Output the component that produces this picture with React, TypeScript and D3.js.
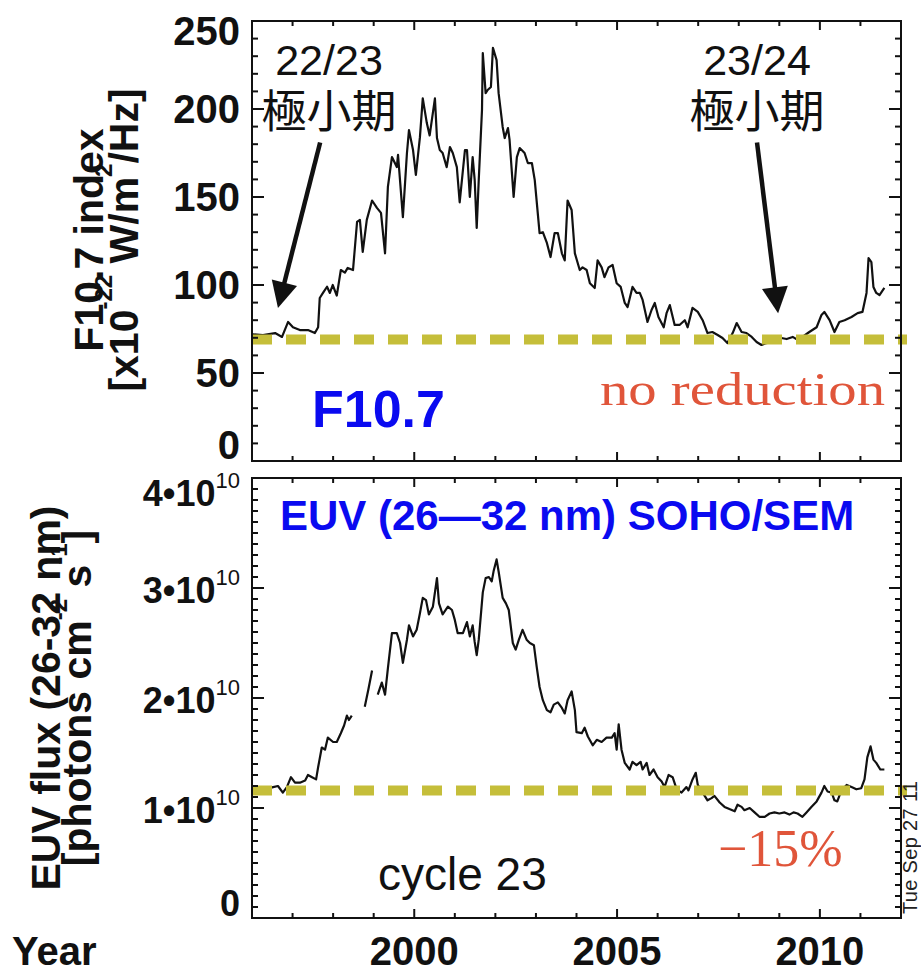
import React from "react";
import * as d3 from "d3";

// F10.7 solar radio flux (smoothed), [decimal year, sfu]
const f107Series: [number, number][] = [
  [1996.02, 72], [1996.27, 71.6], [1996.57, 72.7], [1996.74, 70.5], [1996.89, 79], [1997.01, 76],
  [1997.18, 74.4], [1997.38, 74.4], [1997.55, 72.7], [1997.63, 76], [1997.67, 92.6], [1997.75, 95.5],
  [1997.85, 99], [1997.92, 95.5], [1997.99, 100], [1998.09, 94], [1998.19, 108.5], [1998.29, 107],
  [1998.36, 109.7], [1998.49, 108.5], [1998.59, 135.8], [1998.66, 137], [1998.73, 118.8], [1998.83, 137],
  [1998.96, 148], [1999.08, 143.8], [1999.18, 141], [1999.28, 118], [1999.35, 155.7], [1999.45, 172.7],
  [1999.57, 167], [1999.6, 174], [1999.72, 138.6], [1999.82, 175], [1999.87, 188], [1999.97, 176.7],
  [2000.04, 162.5], [2000.14, 184], [2000.21, 206], [2000.31, 192], [2000.38, 185], [2000.51, 206],
  [2000.56, 183.5], [2000.63, 176.7], [2000.7, 175], [2000.8, 167], [2000.88, 178.4], [2000.95, 175],
  [2001.05, 167], [2001.12, 147], [2001.25, 176.7], [2001.3, 176.7], [2001.37, 150], [2001.44, 172.7],
  [2001.49, 159.7], [2001.54, 132.4], [2001.59, 159.7], [2001.67, 199.4], [2001.69, 231.8], [2001.76, 209],
  [2001.81, 210.8], [2001.89, 212.5], [2001.94, 234.7], [2002.03, 227.8], [2002.08, 209], [2002.18, 189.8],
  [2002.23, 183.5], [2002.31, 189.2], [2002.35, 182.4], [2002.45, 150], [2002.53, 172.7], [2002.6, 177.8],
  [2002.72, 175], [2002.8, 169.3], [2002.9, 169.3], [2002.97, 159.7], [2003.09, 129.5], [2003.17, 130],
  [2003.27, 123.9], [2003.36, 115.9], [2003.46, 129.5], [2003.54, 129.5], [2003.64, 118], [2003.71, 114],
  [2003.78, 148], [2003.88, 142.6], [2003.96, 118], [2004.08, 108.5], [2004.15, 110], [2004.25, 108.5],
  [2004.33, 101], [2004.45, 98.3], [2004.52, 114], [2004.62, 110], [2004.69, 104.5], [2004.79, 110],
  [2004.89, 111.4], [2004.99, 101], [2005.09, 98.9], [2005.19, 89.8], [2005.26, 87.5], [2005.38, 98.9],
  [2005.48, 95.5], [2005.56, 95.5], [2005.63, 91.5], [2005.75, 79], [2005.85, 85.8], [2005.93, 89.8],
  [2006.02, 81.8], [2006.15, 76], [2006.22, 84], [2006.3, 88.6], [2006.42, 77.3], [2006.54, 77.3],
  [2006.67, 80], [2006.74, 76], [2006.86, 87], [2006.99, 84.7], [2007.11, 80], [2007.23, 72.7],
  [2007.35, 73.3], [2007.48, 71.6], [2007.6, 69.9], [2007.72, 67], [2007.85, 72.7], [2007.95, 78.4],
  [2008.07, 73.3], [2008.19, 72.7], [2008.32, 70.5], [2008.44, 67.6], [2008.56, 65.9], [2008.68, 67],
  [2008.83, 67.6], [2009.05, 69.9], [2009.18, 69.3], [2009.33, 70.5], [2009.45, 68.8], [2009.57, 70.5],
  [2009.74, 73.3], [2009.92, 76], [2010.04, 83], [2010.11, 84.7], [2010.24, 80], [2010.36, 73.3],
  [2010.48, 79], [2010.61, 80], [2010.78, 81.8], [2010.93, 84], [2011.05, 84.7], [2011.15, 95.5],
  [2011.2, 115.3], [2011.27, 113], [2011.32, 98.9], [2011.39, 95.5], [2011.47, 94.3], [2011.59, 98.3],
];

// SOHO/SEM 26-32 nm EUV flux, [decimal year, 1e10 photons cm^-2 s^-1]; null = no data
const euvSeries: [number, number | null][] = [
  [1996.25, 1.16], [1996.32, 1.17], [1996.52, 1.19], [1996.64, 1.2], [1996.76, 1.14], [1996.86, 1.19],
  [1996.96, 1.28], [1997.06, 1.23], [1997.18, 1.23], [1997.31, 1.25], [1997.38, 1.3], [1997.48, 1.28],
  [1997.58, 1.26], [1997.63, 1.37], [1997.72, 1.55], [1997.8, 1.53], [1997.87, 1.64], [1998.0, 1.6],
  [1998.09, 1.6], [1998.19, 1.68], [1998.27, 1.75], [1998.34, 1.84], [1998.39, 1.8], [1998.46, 1.84],
  [1998.6, null],
  [1998.78, 1.92], [1998.87, 2.08], [1998.96, 2.25],
  [1999.03, null],
  [1999.1, 2.03], [1999.2, 2.14], [1999.28, 2.03], [1999.35, 2.27], [1999.45, 2.59], [1999.57, 2.59],
  [1999.65, 2.5], [1999.72, 2.32], [1999.82, 2.53], [1999.87, 2.66], [1999.97, 2.56], [2000.06, 2.62],
  [2000.14, 2.77], [2000.21, 2.91], [2000.29, 2.89], [2000.36, 2.76], [2000.46, 2.83], [2000.56, 3.09],
  [2000.61, 2.86], [2000.7, 2.76], [2000.83, 2.83], [2000.93, 2.8], [2001.0, 2.71], [2001.07, 2.59],
  [2001.2, 2.59], [2001.25, 2.64], [2001.3, 2.69], [2001.37, 2.56], [2001.44, 2.66], [2001.49, 2.51],
  [2001.54, 2.39], [2001.59, 2.53], [2001.69, 2.96], [2001.76, 3.09], [2001.84, 3.1], [2001.91, 3.06],
  [2001.96, 3.16], [2002.03, 3.26], [2002.08, 3.15], [2002.18, 2.91], [2002.26, 2.86], [2002.33, 2.8],
  [2002.43, 2.5], [2002.5, 2.44], [2002.58, 2.53], [2002.67, 2.62], [2002.77, 2.53], [2002.85, 2.5],
  [2002.95, 2.48], [2003.02, 2.28], [2003.09, 2.1], [2003.17, 1.98], [2003.27, 1.89], [2003.36, 1.87],
  [2003.44, 1.94], [2003.54, 1.96], [2003.64, 1.91], [2003.71, 1.86], [2003.78, 1.98], [2003.88, 2.06],
  [2003.96, 1.89], [2004.0, 1.69], [2004.13, 1.68], [2004.2, 1.73], [2004.28, 1.65], [2004.4, 1.57],
  [2004.5, 1.62], [2004.62, 1.6], [2004.74, 1.64], [2004.87, 1.64], [2004.94, 1.68], [2004.99, 1.53],
  [2005.04, 1.76], [2005.11, 1.53], [2005.19, 1.41], [2005.31, 1.35], [2005.38, 1.42], [2005.48, 1.39],
  [2005.58, 1.42], [2005.63, 1.35], [2005.73, 1.41], [2005.8, 1.3], [2005.9, 1.35], [2006.0, 1.28],
  [2006.1, 1.24], [2006.17, 1.19], [2006.27, 1.3], [2006.37, 1.28], [2006.47, 1.17], [2006.59, 1.14],
  [2006.71, 1.19], [2006.76, 1.16], [2006.86, 1.26], [2006.94, 1.32], [2006.99, 1.21], [2007.11, 1.14],
  [2007.23, 1.07], [2007.33, 1.09], [2007.4, 1.11], [2007.53, 1.05], [2007.65, 1.01], [2007.77, 0.99],
  [2007.9, 0.97], [2007.97, 1.03], [2008.07, 1.01], [2008.14, 0.98], [2008.27, 1.0], [2008.39, 0.96],
  [2008.51, 0.92], [2008.64, 0.92], [2008.76, 0.95], [2008.88, 0.96], [2009.0, 0.95], [2009.13, 0.96],
  [2009.25, 0.94], [2009.35, 0.96], [2009.45, 0.95], [2009.57, 0.92], [2009.67, 0.96], [2009.79, 1.01],
  [2009.92, 1.06], [2010.04, 1.14], [2010.11, 1.2], [2010.19, 1.15], [2010.29, 1.14], [2010.36, 1.07],
  [2010.43, 1.06], [2010.53, 1.16], [2010.66, 1.21], [2010.78, 1.19], [2010.9, 1.17], [2011.02, 1.18],
  [2011.1, 1.26], [2011.17, 1.46], [2011.25, 1.56], [2011.32, 1.44], [2011.39, 1.41], [2011.49, 1.35],
  [2011.59, 1.35],
];

const yearLabels = [2000, 2005, 2010];
const f107TickLabels = [0, 50, 100, 150, 200, 250];
const euvTickLabels = [0, 1, 2, 3, 4];
const f107Reference = 69; // "no reduction" level
const euvReference = 1.16; // same-epoch EUV level

const W = 921;
const H = 974;
const plotLeft = 252;
const plotRight = 901;
const topPanel = { top: 21, bottom: 461 };
const botPanel = { top: 478, bottom: 918 };

const x = d3.scaleLinear().domain([1996, 2012]).range([plotLeft, plotRight]);
const yF = d3.scaleLinear().domain([0, 250]).range([topPanel.bottom, topPanel.top]);
const yE = d3.scaleLinear().domain([0, 4]).range([botPanel.bottom, botPanel.top]);

const SANS = "'Liberation Sans', Arial, Helvetica, sans-serif";
const SERIF = "'Liberation Serif', 'Times New Roman', serif";
const CJK = "'Noto Sans CJK JP', sans-serif";
const BLUE = "#0a0af0";
const RED = "#e0553a";
const OLIVE = "#c5be3a";
const INK = "#111";

type FrameProps = {
  y: d3.ScaleLinear<number, number>;
  top: number;
  bottom: number;
  max: number;
  minorStep: number;
  majorEvery: number;
};

function Frame({ y, top, bottom, max, minorStep, majorEvery }: FrameProps) {
  const n = Math.round(max / minorStep);
  const yTicks = d3.range(0, n + 1).map((i) => ({ v: i * minorStep, major: i % majorEvery === 0 }));
  const xTicks = d3.range(1997, 2012).map((yr) => ({ v: yr, major: yr % 5 === 0 }));
  return (
    <g stroke={INK} strokeWidth={2} fill="none">
      <rect x={plotLeft} y={top} width={plotRight - plotLeft} height={bottom - top} />
      {yTicks.map((t) => {
        const len = t.major ? 12 : 6;
        const yy = y(t.v);
        return (
          <g key={`y${t.v}`}>
            <line x1={plotLeft} x2={plotLeft + len} y1={yy} y2={yy} />
            <line x1={plotRight} x2={plotRight - len} y1={yy} y2={yy} />
          </g>
        );
      })}
      {xTicks.map((t) => {
        const len = t.major ? 9 : 5;
        const xx = x(t.v);
        return (
          <g key={`x${t.v}`}>
            <line x1={xx} x2={xx} y1={top} y2={top + len} />
            <line x1={xx} x2={xx} y1={bottom} y2={bottom - len} />
          </g>
        );
      })}
    </g>
  );
}

type ArrowProps = {
  from: [number, number];
  to: [number, number];
  y: d3.ScaleLinear<number, number>;
};

function Arrow({ from, to, y }: ArrowProps) {
  const x0 = x(from[0]);
  const y0 = y(from[1]);
  const x1 = x(to[0]);
  const y1 = y(to[1]);
  const len = Math.hypot(x1 - x0, y1 - y0);
  const ux = (x1 - x0) / len;
  const uy = (y1 - y0) / len;
  const headLen = 26;
  const headHalf = 13;
  const bx = x1 - ux * headLen;
  const by = y1 - uy * headLen;
  const head = [
    [x1, y1],
    [bx - uy * headHalf, by + ux * headHalf],
    [bx + uy * headHalf, by - ux * headHalf],
  ]
    .map((p) => p.join(","))
    .join(" ");
  return (
    <g>
      <line x1={x0} y1={y0} x2={bx + ux * 4} y2={by + uy * 4} stroke={INK} strokeWidth={4.5} />
      <polygon points={head} fill={INK} />
    </g>
  );
}

// Two-line "cycle boundary / minimum" note: numerals above, Japanese below
function MinimumNote({ cx, label }: { cx: number; label: string }) {
  return (
    <text textAnchor="middle" fill={INK}>
      <tspan x={cx} y={75} fontSize={43}>{label}</tspan>
      <tspan x={cx} y={128} fontSize={45} fontFamily={CJK}>極小期</tspan>
    </text>
  );
}

export default function App() {
  const f107Line = d3
    .line<[number, number]>()
    .x((d) => x(d[0]))
    .y((d) => yF(d[1]));
  const euvLine = d3
    .line<[number, number | null]>()
    .defined((d) => d[1] != null)
    .x((d) => x(d[0]))
    .y((d) => yE(d[1] as number));

  const clampY = (v: number, lo: number, hi: number) => Math.max(lo, Math.min(hi, v));

  return (
    <svg
      width={W}
      height={H}
      viewBox={`0 0 ${W} ${H}`}
      style={{ position: "absolute", left: 0, top: 0, background: "#fff" }}
      fontFamily={SANS}
    >
      <rect width={W} height={H} fill="#fff" />

      {/* ---------- F10.7 panel ---------- */}
      <path d={f107Line(f107Series) || ""} fill="none" stroke={INK} strokeWidth={2.2} strokeLinejoin="round" />
      <line
        x1={plotLeft}
        x2={907}
        y1={yF(f107Reference)}
        y2={yF(f107Reference)}
        stroke={OLIVE}
        strokeWidth={10}
        strokeDasharray="20 14"
      />
      <Frame y={yF} top={topPanel.top} bottom={topPanel.bottom} max={250} minorStep={10} majorEvery={5} />

      {f107TickLabels.map((v) => (
        <text
          key={`fl${v}`}
          x={240}
          y={clampY(yF(v), topPanel.top + 10, topPanel.bottom - 16) + 14}
          textAnchor="end"
          fontSize={40}
          fontWeight="bold"
          fill={INK}
        >
          {v}
        </text>
      ))}

      <text transform="translate(103,240) rotate(-90)" textAnchor="middle" fontSize={41} fontWeight="bold" fill={INK}>
        F10.7 index
      </text>
      <text transform="translate(138,240) rotate(-90)" textAnchor="middle" fontSize={41} fontWeight="bold" fill={INK}>
        [x10
        <tspan fontSize={24} dy={-26}>-22</tspan>
        <tspan dy={26}> W/m</tspan>
        <tspan fontSize={24} dy={-26}>2</tspan>
        <tspan dy={26}>/Hz]</tspan>
      </text>

      <MinimumNote cx={329} label="22/23" />
      <Arrow from={[1997.68, 181]} to={[1996.64, 87]} y={yF} />

      <MinimumNote cx={757} label="23/24" />
      <Arrow from={[2008.45, 181]} to={[2008.97, 84]} y={yF} />

      <text x={312} y={427} fontSize={52} fontWeight="bold" fill={BLUE}>F10.7</text>
      <text
        x={600}
        y={405}
        fontSize={46}
        fontFamily={SERIF}
        fill={RED}
        textLength={285}
        lengthAdjust="spacingAndGlyphs"
      >
        no reduction
      </text>

      {/* ---------- EUV panel ---------- */}
      <path d={euvLine(euvSeries) || ""} fill="none" stroke={INK} strokeWidth={2.2} strokeLinejoin="round" />
      <line
        x1={plotLeft}
        x2={907}
        y1={yE(euvReference)}
        y2={yE(euvReference)}
        stroke={OLIVE}
        strokeWidth={10}
        strokeDasharray="20 14"
      />
      <Frame y={yE} top={botPanel.top} bottom={botPanel.bottom} max={4} minorStep={0.1} majorEvery={10} />

      {euvTickLabels.map((v) => {
        const base = clampY(yE(v) + 2, botPanel.top + 15, botPanel.bottom - 15) + 12.5;
        return v === 0 ? (
          <text key={`el${v}`} x={240} y={base} textAnchor="end" fontSize={36} fontWeight="bold" fill={INK}>
            0
          </text>
        ) : (
          <text key={`el${v}`} x={240} y={base} textAnchor="end" fontSize={36} fontWeight="bold" fill={INK}>
            {`${v}\u202210`}
            <tspan fontSize={22} fontWeight="normal" dy={-18}>10</tspan>
          </text>
        );
      })}

      <text transform="translate(60,698) rotate(-90)" textAnchor="middle" fontSize={41} fontWeight="bold" fill={INK}>
        EUV flux (26-32 nm)
      </text>
      <text transform="translate(91,698) rotate(-90)" textAnchor="middle" fontSize={41} fontWeight="bold" fill={INK}>
        [photons cm
        <tspan fontSize={24} dy={-24}>-2</tspan>
        <tspan dy={24}> s</tspan>
        <tspan fontSize={24} dy={-24}>-1</tspan>
        <tspan dy={24}>]</tspan>
      </text>

      <text x={280} y={530} fontSize={42} fontWeight="bold" fill={BLUE}>
        EUV (26—32 nm) SOHO/SEM
      </text>
      <text x={378} y={890} fontSize={46} fill={INK}>cycle 23</text>
      <text x={718} y={866} fontSize={52} fontFamily={SERIF} fill={RED}>−15%</text>

      <text
        transform="translate(917,914) rotate(-90)"
        fontSize={20}
        fill="#222"
        textLength={133}
        lengthAdjust="spacing"
      >
        Tue Sep 27 11
      </text>

      {/* ---------- shared x axis ---------- */}
      {yearLabels.map((yr) => (
        <text key={`yr${yr}`} x={x(yr)} y={965} textAnchor="middle" fontSize={40} fontWeight="bold" fill={INK}>
          {yr}
        </text>
      ))}
      <text x={12} y={965} fontSize={40} fontWeight="bold" fill={INK}>Year</text>
    </svg>
  );
}
